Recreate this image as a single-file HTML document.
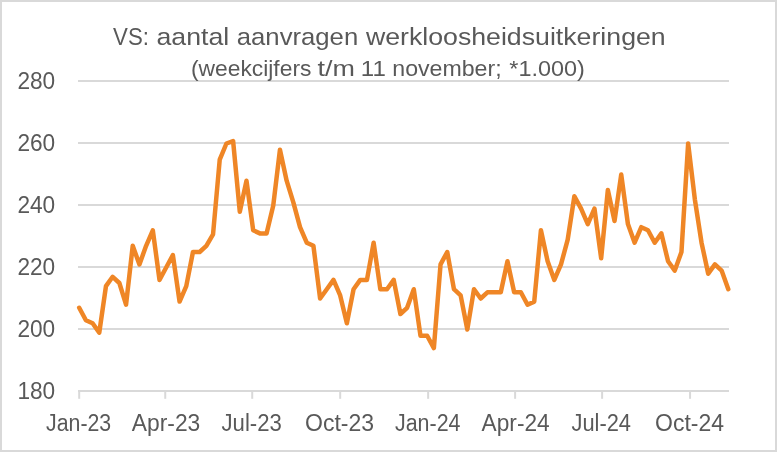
<!DOCTYPE html>
<html><head><meta charset="utf-8"><style>
html,body{margin:0;padding:0;background:#fff;}
svg{display:block;will-change:transform;}
text{font-family:"Liberation Sans",sans-serif;fill:#595959;}
</style></head><body>
<svg width="777" height="452" viewBox="0 0 777 452">
<rect x="0" y="0" width="777" height="452" fill="#d9d9d9"/>
<rect x="2" y="2" width="773" height="448" fill="#ffffff"/>
<line x1="78" y1="329.00" x2="729" y2="329.00" stroke="#d9d9d9" stroke-width="2"/>
<line x1="78" y1="267.00" x2="729" y2="267.00" stroke="#d9d9d9" stroke-width="2"/>
<line x1="78" y1="205.00" x2="729" y2="205.00" stroke="#d9d9d9" stroke-width="2"/>
<line x1="78" y1="143.00" x2="729" y2="143.00" stroke="#d9d9d9" stroke-width="2"/>
<line x1="78" y1="81.00" x2="729" y2="81.00" stroke="#d9d9d9" stroke-width="2"/>
<line x1="78" y1="391" x2="729" y2="391" stroke="#d9d9d9" stroke-width="2"/>
<line x1="79.20" y1="391" x2="79.20" y2="398.8" stroke="#d9d9d9" stroke-width="2"/>
<line x1="165.24" y1="391" x2="165.24" y2="398.8" stroke="#d9d9d9" stroke-width="2"/>
<line x1="252.23" y1="391" x2="252.23" y2="398.8" stroke="#d9d9d9" stroke-width="2"/>
<line x1="340.18" y1="391" x2="340.18" y2="398.8" stroke="#d9d9d9" stroke-width="2"/>
<line x1="428.13" y1="391" x2="428.13" y2="398.8" stroke="#d9d9d9" stroke-width="2"/>
<line x1="515.12" y1="391" x2="515.12" y2="398.8" stroke="#d9d9d9" stroke-width="2"/>
<line x1="602.11" y1="391" x2="602.11" y2="398.8" stroke="#d9d9d9" stroke-width="2"/>
<line x1="690.06" y1="391" x2="690.06" y2="398.8" stroke="#d9d9d9" stroke-width="2"/>
<text x="113.10" y="44.70" font-size="24.60" textLength="35.80" lengthAdjust="spacingAndGlyphs">VS:</text>
<text x="156.50" y="44.70" font-size="24.60" textLength="72.80" lengthAdjust="spacingAndGlyphs">aantal</text>
<text x="236.80" y="44.70" font-size="24.60" textLength="121.40" lengthAdjust="spacingAndGlyphs">aanvragen</text>
<text x="365.90" y="44.70" font-size="24.60" textLength="299.80" lengthAdjust="spacingAndGlyphs">werkloosheidsuitkeringen</text>
<text x="191.00" y="75.60" font-size="22.00" textLength="120.40" lengthAdjust="spacingAndGlyphs">(weekcijfers</text>
<text x="317.60" y="75.60" font-size="22.00" textLength="37.40" lengthAdjust="spacingAndGlyphs">t/m</text>
<text x="360.80" y="75.60" font-size="22.00" textLength="25.00" lengthAdjust="spacingAndGlyphs">11</text>
<text x="392.30" y="75.60" font-size="22.00" textLength="109.30" lengthAdjust="spacingAndGlyphs">november;</text>
<text x="509.30" y="75.60" font-size="22.00" textLength="75.60" lengthAdjust="spacingAndGlyphs">*1.000)</text>
<text x="46.00" y="430.60" font-size="23.30" textLength="65.20" lengthAdjust="spacingAndGlyphs">Jan-23</text>
<text x="131.80" y="430.60" font-size="23.30" textLength="68.50" lengthAdjust="spacingAndGlyphs">Apr-23</text>
<text x="221.50" y="430.60" font-size="23.30" textLength="60.30" lengthAdjust="spacingAndGlyphs">Jul-23</text>
<text x="305.00" y="430.60" font-size="23.30" textLength="69.10" lengthAdjust="spacingAndGlyphs">Oct-23</text>
<text x="395.00" y="430.60" font-size="23.30" textLength="65.50" lengthAdjust="spacingAndGlyphs">Jan-24</text>
<text x="481.60" y="430.60" font-size="23.30" textLength="68.10" lengthAdjust="spacingAndGlyphs">Apr-24</text>
<text x="571.50" y="430.60" font-size="23.30" textLength="59.50" lengthAdjust="spacingAndGlyphs">Jul-24</text>
<text x="655.00" y="430.60" font-size="23.30" textLength="69.00" lengthAdjust="spacingAndGlyphs">Oct-24</text>
<text x="17.40" y="399.10" font-size="23.00" textLength="37.80" lengthAdjust="spacingAndGlyphs">180</text>
<text x="17.40" y="337.06" font-size="23.00" textLength="37.80" lengthAdjust="spacingAndGlyphs">200</text>
<text x="17.40" y="275.02" font-size="23.00" textLength="37.80" lengthAdjust="spacingAndGlyphs">220</text>
<text x="17.40" y="212.98" font-size="23.00" textLength="37.80" lengthAdjust="spacingAndGlyphs">240</text>
<text x="17.40" y="150.94" font-size="23.00" textLength="37.80" lengthAdjust="spacingAndGlyphs">260</text>
<text x="17.40" y="88.90" font-size="23.00" textLength="37.80" lengthAdjust="spacingAndGlyphs">280</text>
<polyline points="79.20,307.80 85.89,320.20 92.58,323.30 99.28,332.60 105.97,286.10 112.66,276.80 119.35,283.00 126.04,304.70 132.73,245.80 139.43,264.40 146.12,245.80 152.81,230.30 159.50,279.90 166.19,267.50 172.88,255.10 179.58,301.60 186.27,286.10 192.96,252.00 199.65,252.00 206.34,245.80 213.04,234.33 219.73,159.62 226.42,143.50 233.11,141.02 239.80,211.70 246.49,180.70 253.19,230.30 259.88,233.40 266.57,233.40 273.26,205.50 279.95,149.70 286.64,180.70 293.34,202.40 300.03,227.20 306.72,242.70 313.41,245.80 320.10,298.50 326.79,289.20 333.49,279.90 340.18,295.40 346.87,323.30 353.56,289.20 360.25,279.90 366.95,279.90 373.64,242.70 380.33,289.20 387.02,289.20 393.71,279.90 400.40,314.00 407.10,307.80 413.79,289.20 420.48,335.70 427.17,335.70 433.86,348.10 440.55,264.40 447.25,252.00 453.94,289.20 460.63,295.40 467.32,329.50 474.01,289.20 480.71,298.50 487.40,292.30 494.09,292.30 500.78,292.30 507.47,261.30 514.16,292.30 520.86,292.30 527.55,304.70 534.24,301.60 540.93,230.30 547.62,261.30 554.31,279.90 561.01,264.40 567.70,239.60 574.39,196.20 581.08,208.60 587.77,224.10 594.46,208.60 601.16,258.20 607.85,190.00 614.54,221.00 621.23,174.50 627.92,224.10 634.62,242.70 641.31,227.20 648.00,230.30 654.69,242.70 661.38,233.40 668.07,261.30 674.77,270.60 681.46,252.00 688.15,143.50 694.84,199.30 701.53,242.70 708.22,273.70 714.92,264.40 721.61,270.60 728.30,289.20" fill="none" stroke="#ef8626" stroke-width="4.5" stroke-linejoin="round" stroke-linecap="round"/>
</svg>
</body></html>
